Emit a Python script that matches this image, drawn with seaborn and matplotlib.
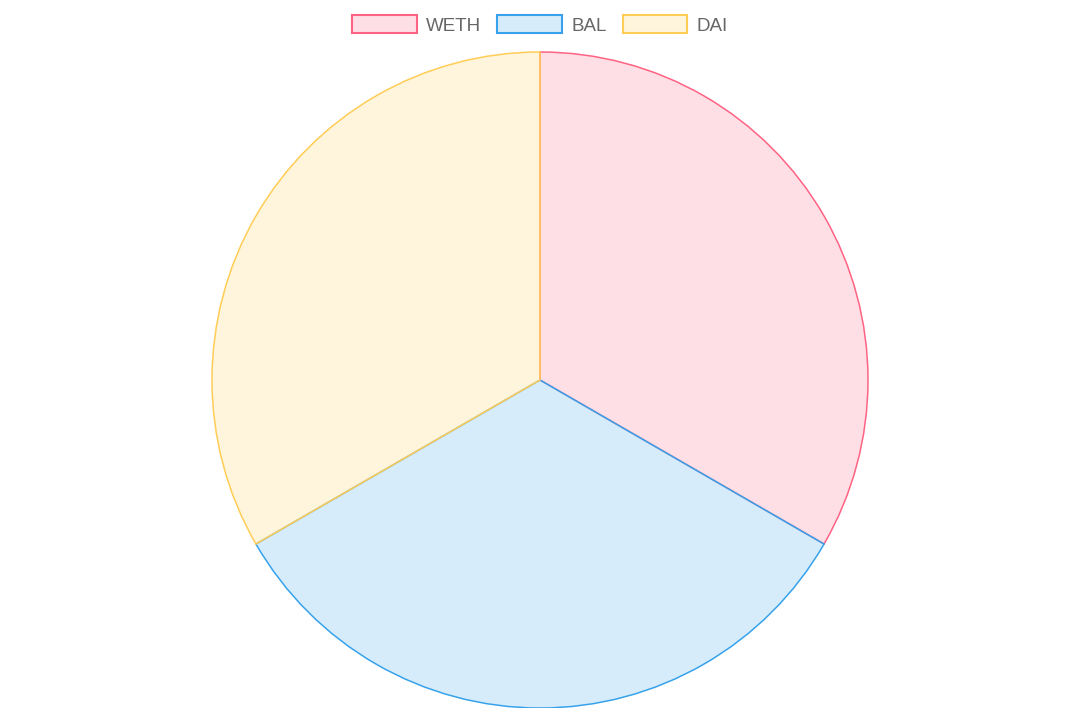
import matplotlib
matplotlib.use("Agg")
import matplotlib.pyplot as plt
import seaborn as sns
from matplotlib.patches import Patch

# data
tokens = ["WETH", "BAL", "DAI"]
shares = [1, 1, 1]
border_colors = ["#ff6384", "#36a2eb", "#ffcd56"]

sns.set_theme(style="white")
plt.rcParams["font.family"] = ["Liberation Sans", "DejaVu Sans"]

fig = plt.figure(figsize=(10.8, 7.08), dpi=100)
ax = fig.add_axes([212 / 1080, 0.0, 656 / 1080, 656 / 708])

fills = [matplotlib.colors.to_rgba(c, 0.2) for c in border_colors]
wedges, _ = ax.pie(shares, colors=fills, startangle=90, counterclock=False,
                   radius=1.0, wedgeprops=dict(linewidth=1.1))
for w, c in zip(wedges, border_colors):
    w.set_edgecolor(c)
ax.set_xlim(-1.0, 1.0)
ax.set_ylim(-1.0, 1.0)
ax.set_aspect("equal")
ax.axis("off")

handles = [Patch(facecolor=f, edgecolor=c, linewidth=1.5) for f, c in zip(fills, border_colors)]
fig.legend(handles, tokens, loc="center", bbox_to_anchor=(540 / 1080, 1 - 25 / 708),
           ncol=3, frameon=False, fontsize=13.5, labelcolor="#666666",
           handlelength=3.45, handleheight=1.1, handletextpad=0.5, columnspacing=0.85,
           borderpad=0, borderaxespad=0)

fig.savefig("out.png", dpi=100, facecolor="white")
